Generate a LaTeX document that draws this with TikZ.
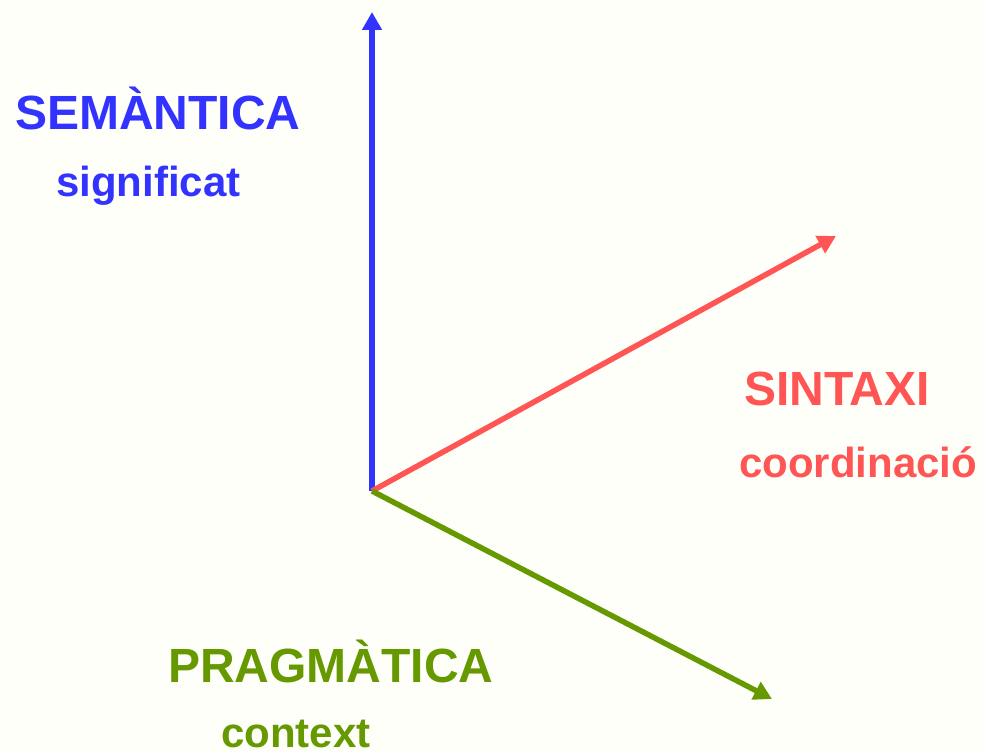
\documentclass[tikz,border=0pt]{standalone}
\usepackage{fontspec}
\setmainfont{Liberation Sans}
\usetikzlibrary{arrows.meta}
\definecolor{bgc}{HTML}{FFFFFA}
\definecolor{semc}{HTML}{3333FF}
\definecolor{sinc}{HTML}{FF5555}
\definecolor{prac}{HTML}{669900}
\tikzset{
  axis/.style={line width=5.5pt, -{Triangle[length=18pt,width=19pt]}},
  big/.style={anchor=base west, inner sep=0pt, font=\fontsize{48}{50}\selectfont\bfseries},
  small/.style={anchor=base west, inner sep=0pt, font=\fontsize{42}{45}\selectfont\bfseries}
}
\begin{document}
\begin{tikzpicture}[x=1pt,y=-1pt]
\fill[bgc] (0,0) rectangle (983,754);
\useasboundingbox (0,0) rectangle (983,754);
\coordinate (o) at (372,491);
\coordinate (up) at (372,12);
\coordinate (re) at (836,236);
\coordinate (gr) at (772,699);
\draw[axis, semc] (o) -- (up);
\draw[axis, sinc] (o) -- (re);
\draw[axis, prac] (o) -- (gr);
\node[big, text=semc] (sem) at (15,130) {SEMÀNTICA};
\node[small, text=semc] (sig) at (56,197) {significat};
\node[big, text=sinc] (sin) at (744,405) {SINTAXI};
\node[small, text=sinc] (coo) at (739,477) {coordinació};
\node[big, text=prac] (pra) at (168,682) {PRAGMÀTICA};
\node[small, text=prac] (con) at (221,747) {context};
\end{tikzpicture}
\end{document}
